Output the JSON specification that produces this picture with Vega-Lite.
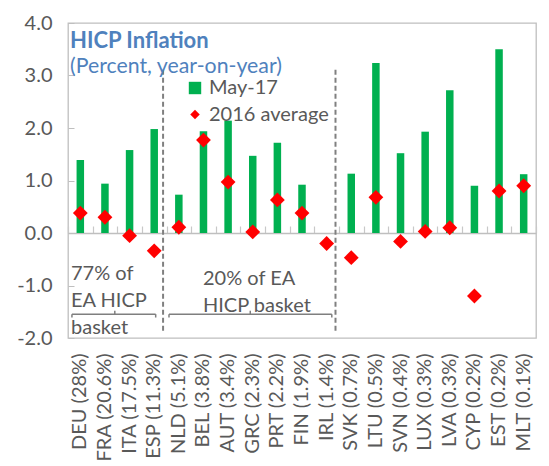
{
  "$schema": "https://vega.github.io/schema/vega-lite/v6.json",
  "autosize": {"type": "none"},
  "padding": {"left": 68, "top": 23, "right": 13, "bottom": 128},
  "width": 468,
  "height": 315,
  "background": "white",
  "title": {
    "text": "HICP Inflation",
    "subtitle": "(Percent, year-on-year)",
    "anchor": "start",
    "frame": "group",
    "orient": "top",
    "offset": -65,
    "dx": 2,
    "font": "Lato",
    "fontSize": 22,
    "fontWeight": "bold",
    "color": "#4f81bd",
    "subtitleFont": "Lato",
    "subtitleFontSize": 21.3,
    "subtitleColor": "#4f81bd",
    "subtitlePadding": 3
  },
  "data": {
    "values": [
      {"country": "DEU (28%)", "series": "May-17", "value": 1.39},
      {"country": "FRA (20.6%)", "series": "May-17", "value": 0.94},
      {"country": "ITA (17.5%)", "series": "May-17", "value": 1.58},
      {"country": "ESP (11.3%)", "series": "May-17", "value": 1.98},
      {"country": "NLD (5.1%)", "series": "May-17", "value": 0.73},
      {"country": "BEL (3.8%)", "series": "May-17", "value": 1.94},
      {"country": "AUT (3.4%)", "series": "May-17", "value": 2.14},
      {"country": "GRC (2.3%)", "series": "May-17", "value": 1.47},
      {"country": "PRT (2.2%)", "series": "May-17", "value": 1.72},
      {"country": "FIN (1.9%)", "series": "May-17", "value": 0.92},
      {"country": "IRL (1.4%)", "series": "May-17", "value": 0},
      {"country": "SVK (0.7%)", "series": "May-17", "value": 1.13},
      {"country": "LTU (0.5%)", "series": "May-17", "value": 3.24},
      {"country": "SVN (0.4%)", "series": "May-17", "value": 1.52},
      {"country": "LUX (0.3%)", "series": "May-17", "value": 1.93},
      {"country": "LVA (0.3%)", "series": "May-17", "value": 2.72},
      {"country": "CYP (0.2%)", "series": "May-17", "value": 0.9},
      {"country": "EST (0.2%)", "series": "May-17", "value": 3.5},
      {"country": "MLT (0.1%)", "series": "May-17", "value": 1.12},
      {"country": "DEU (28%)", "series": "2016 average", "value": 0.38},
      {"country": "FRA (20.6%)", "series": "2016 average", "value": 0.3},
      {"country": "ITA (17.5%)", "series": "2016 average", "value": -0.05},
      {"country": "ESP (11.3%)", "series": "2016 average", "value": -0.34},
      {"country": "NLD (5.1%)", "series": "2016 average", "value": 0.11},
      {"country": "BEL (3.8%)", "series": "2016 average", "value": 1.77},
      {"country": "AUT (3.4%)", "series": "2016 average", "value": 0.97},
      {"country": "GRC (2.3%)", "series": "2016 average", "value": 0.02},
      {"country": "PRT (2.2%)", "series": "2016 average", "value": 0.63},
      {"country": "FIN (1.9%)", "series": "2016 average", "value": 0.38},
      {"country": "IRL (1.4%)", "series": "2016 average", "value": -0.2},
      {"country": "SVK (0.7%)", "series": "2016 average", "value": -0.47},
      {"country": "LTU (0.5%)", "series": "2016 average", "value": 0.68},
      {"country": "SVN (0.4%)", "series": "2016 average", "value": -0.16},
      {"country": "LUX (0.3%)", "series": "2016 average", "value": 0.03},
      {"country": "LVA (0.3%)", "series": "2016 average", "value": 0.1},
      {"country": "CYP (0.2%)", "series": "2016 average", "value": -1.2},
      {"country": "EST (0.2%)", "series": "2016 average", "value": 0.8},
      {"country": "MLT (0.1%)", "series": "2016 average", "value": 0.9}
    ]
  },
  "resolve": {"axis": {"x": "independent"}},
  "layer": [
    {
      "transform": [{"filter": "datum.series === 'May-17'"}],
      "mark": {"type": "bar", "width": 7.5},
      "encoding": {
        "x": {
          "field": "country",
          "type": "nominal",
          "sort": null,
          "scale": {"domain": ["DEU (28%)", "FRA (20.6%)", "ITA (17.5%)", "ESP (11.3%)", "NLD (5.1%)", "BEL (3.8%)", "AUT (3.4%)", "GRC (2.3%)", "PRT (2.2%)", "FIN (1.9%)", "IRL (1.4%)", "SVK (0.7%)", "LTU (0.5%)", "SVN (0.4%)", "LUX (0.3%)", "LVA (0.3%)", "CYP (0.2%)", "EST (0.2%)", "MLT (0.1%)"]},
          "axis": {"orient": "bottom", "title": null, "labelAngle": -90, "labelFont": "Lato", "labelFontSize": 20, "labelColor": "#595959", "ticks": false, "domain": false, "labelPadding": 15}
        },
        "y": {
          "field": "value",
          "type": "quantitative",
          "scale": {"domain": [-2, 4], "nice": false, "zero": false},
          "axis": {"title": null, "values": [-2, -1, 0, 1, 2, 3, 4], "labelExpr": "replace(format(datum.value, '.1f'), '\u2212', '-')", "labelFont": "Lato", "labelFontSize": 20, "labelColor": "#595959", "domain": false, "grid": false, "ticks": true, "tickSize": -6, "tickColor": "#bfbfbf", "labelPadding": 22}
        },
        "color": {
          "field": "series",
          "type": "nominal",
          "scale": {"domain": ["May-17", "2016 average"], "range": ["#00b050", "#ff0000"]},
          "legend": {"title": null, "orient": "none", "legendX": 117, "legendY": 55, "labelFont": "Lato", "labelFontSize": 20, "labelColor": "#595959", "labelOffset": 4, "rowPadding": 6.5, "padding": 0, "symbolStrokeWidth": 0, "encode": {"symbols": {"update": {"size": {"signal": "datum.value === 'May-17' ? 154 : 90"}}}}}
        }
      }
    },
    {
      "transform": [{"filter": "datum.series === '2016 average'"}],
      "mark": {"type": "point", "filled": true, "opacity": 1, "size": 220},
      "encoding": {
        "x": {
          "field": "country",
          "type": "nominal",
          "sort": null,
          "axis": {"orient": "top", "offset": -210, "labels": false, "title": null, "ticks": true, "tickBand": "extent", "tickSize": 7, "tickColor": "#c8c8c8", "tickWidth": 1.2, "domainColor": "#bfbfbf", "domainWidth": 1.5}
        },
        "y": {"field": "value", "type": "quantitative"},
        "color": {"field": "series", "type": "nominal"},
        "shape": {
          "field": "series",
          "type": "nominal",
          "scale": {"domain": ["May-17", "2016 average"], "range": ["square", "diamond"]},
          "legend": {"title": null, "orient": "none", "legendX": 117, "legendY": 55, "labelFont": "Lato", "labelFontSize": 20, "labelColor": "#595959", "labelOffset": 4, "rowPadding": 6.5, "padding": 0, "symbolStrokeWidth": 0, "encode": {"symbols": {"update": {"size": {"signal": "datum.value === 'May-17' ? 154 : 90"}}}}}
        }
      }
    },
    {
      "transform": [{"filter": "datum.series === 'May-17' && (datum.country === 'ESP (11.3%)' || datum.country === 'IRL (1.4%)')"}],
      "mark": {"type": "rule", "color": "#808080", "strokeWidth": 2, "strokeDash": [5, 3]},
      "encoding": {
        "x": {"field": "country", "type": "nominal", "bandPosition": 0.86, "axis": null},
        "y": {"datum": 3.11},
        "y2": {"datum": -1.87}
      }
    },
    {
      "data": {"values": [{}]},
      "mark": {"type": "text", "align": "left", "baseline": "alphabetic", "font": "Lato", "fontSize": 20, "color": "#595959", "lineHeight": 27},
      "encoding": {
        "x": {"datum": "DEU (28%)", "bandPosition": 0, "axis": null},
        "y": {"datum": -0.89},
        "text": {"value": ["77% of", "EA HICP", "basket"]},
        "xOffset": {"value": 3}
      }
    },
    {
      "data": {"values": [{}]},
      "mark": {"type": "text", "align": "left", "baseline": "alphabetic", "font": "Lato", "fontSize": 20, "color": "#595959", "lineHeight": 27.3},
      "encoding": {
        "x": {"datum": "BEL (3.8%)", "bandPosition": 0.48, "axis": null},
        "y": {"datum": -0.985},
        "text": {"value": ["20% of EA", "HICP basket"]}
      }
    },
    {
      "data": {"values": [{}]},
      "mark": {"type": "rule", "color": "#7f7f7f", "strokeWidth": 1.5},
      "encoding": {
        "x": {"datum": "DEU (28%)", "bandPosition": 0.16, "axis": null},
        "x2": {"datum": "ESP (11.3%)", "bandPosition": 0.56},
        "y": {"datum": -1.546}
      }
    },
    {
      "data": {"values": [{}]},
      "mark": {"type": "rule", "color": "#7f7f7f", "strokeWidth": 1.5},
      "encoding": {
        "x": {"datum": "NLD (5.1%)", "bandPosition": 0.1, "axis": null},
        "x2": {"datum": "IRL (1.4%)", "bandPosition": 0.71},
        "y": {"datum": -1.546}
      }
    },
    {"data": {"values": [{}]}, "mark": {"type": "rule", "color": "#7f7f7f", "strokeWidth": 1.5}, "encoding": {"x": {"datum": "DEU (28%)", "bandPosition": 0.16, "axis": null}, "y": {"datum": -1.546}, "y2": {"datum": -1.61}}},
    {"data": {"values": [{}]}, "mark": {"type": "rule", "color": "#7f7f7f", "strokeWidth": 1.5}, "encoding": {"x": {"datum": "ESP (11.3%)", "bandPosition": 0.56, "axis": null}, "y": {"datum": -1.546}, "y2": {"datum": -1.61}}},
    {"data": {"values": [{}]}, "mark": {"type": "rule", "color": "#7f7f7f", "strokeWidth": 1.5}, "encoding": {"x": {"datum": "FRA (20.6%)", "bandPosition": 0.9, "axis": null}, "y": {"datum": -1.546}, "y2": {"datum": -1.48}}},
    {"data": {"values": [{}]}, "mark": {"type": "rule", "color": "#7f7f7f", "strokeWidth": 1.5}, "encoding": {"x": {"datum": "NLD (5.1%)", "bandPosition": 0.1, "axis": null}, "y": {"datum": -1.546}, "y2": {"datum": -1.61}}},
    {"data": {"values": [{}]}, "mark": {"type": "rule", "color": "#7f7f7f", "strokeWidth": 1.5}, "encoding": {"x": {"datum": "IRL (1.4%)", "bandPosition": 0.71, "axis": null}, "y": {"datum": -1.546}, "y2": {"datum": -1.61}}},
    {"data": {"values": [{}]}, "mark": {"type": "rule", "color": "#7f7f7f", "strokeWidth": 1.5}, "encoding": {"x": {"datum": "GRC (2.3%)", "bandPosition": 0.4, "axis": null}, "y": {"datum": -1.546}, "y2": {"datum": -1.48}}}
  ],
  "config": {
    "view": {"stroke": "#bfbfbf", "strokeWidth": 1.3},
    "scale": {"bandPaddingInner": 0, "bandPaddingOuter": 0}
  }
}
